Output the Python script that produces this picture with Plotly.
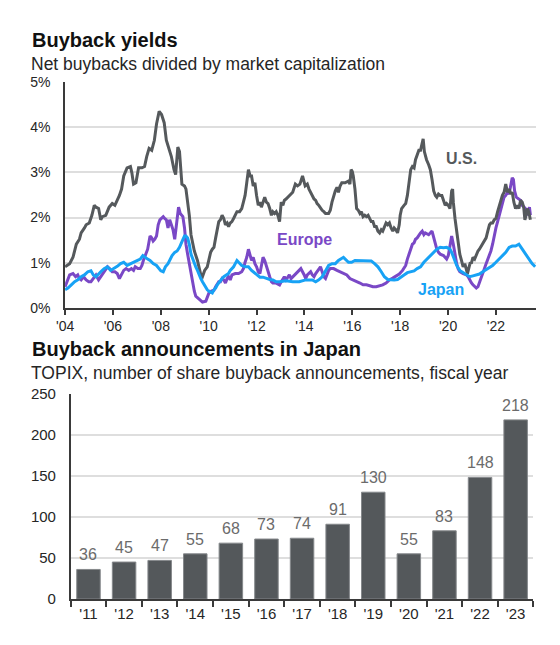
import plotly.graph_objects as go

# ---------------- Data: buyback yields (%), decimal year ----------------
us_t = [2004.00, 2004.19, 2004.33, 2004.47, 2004.60, 2004.67, 2004.81, 2004.88, 2005.01, 2005.12,
        2005.22, 2005.29, 2005.40, 2005.49, 2005.56, 2005.70, 2005.84, 2005.97, 2006.08, 2006.18,
        2006.27, 2006.36, 2006.45, 2006.59, 2006.73, 2006.79, 2006.86, 2006.96, 2007.07, 2007.21,
        2007.32, 2007.41, 2007.51, 2007.62, 2007.73, 2007.82, 2007.93, 2008.03, 2008.14, 2008.23,
        2008.33, 2008.44, 2008.55, 2008.62, 2008.71, 2008.78, 2008.88, 2008.99, 2009.05, 2009.12,
        2009.19, 2009.26, 2009.33, 2009.40, 2009.53, 2009.60, 2009.67, 2009.74, 2009.83, 2009.94,
        2010.01, 2010.08, 2010.15, 2010.22, 2010.29, 2010.36, 2010.42, 2010.49, 2010.56, 2010.63,
        2010.70, 2010.77, 2010.83, 2010.90, 2010.97, 2011.04, 2011.18, 2011.29, 2011.38, 2011.45,
        2011.52, 2011.59, 2011.66, 2011.73, 2011.79, 2011.86, 2011.93, 2012.00, 2012.07, 2012.14,
        2012.20, 2012.27, 2012.34, 2012.41, 2012.48, 2012.55, 2012.62, 2012.68, 2012.75, 2012.82,
        2012.89, 2012.96, 2013.03, 2013.10, 2013.16, 2013.23, 2013.37, 2013.51, 2013.62, 2013.71,
        2013.81, 2013.92, 2014.03, 2014.12, 2014.19, 2014.26, 2014.33, 2014.40, 2014.47, 2014.53,
        2014.60, 2014.67, 2014.74, 2014.81, 2014.88, 2015.01, 2015.08, 2015.15, 2015.22, 2015.29,
        2015.36, 2015.42, 2015.49, 2015.56, 2015.70, 2015.84, 2015.90, 2015.95, 2016.00, 2016.04,
        2016.11, 2016.18, 2016.25, 2016.32, 2016.38, 2016.45, 2016.52, 2016.59, 2016.66, 2016.73,
        2016.79, 2016.86, 2016.93, 2017.00, 2017.07, 2017.14, 2017.21, 2017.27, 2017.34, 2017.41,
        2017.48, 2017.55, 2017.62, 2017.69, 2017.75, 2017.82, 2017.89, 2017.96, 2018.00, 2018.06,
        2018.16, 2018.23, 2018.30, 2018.37, 2018.44, 2018.51, 2018.58, 2018.64, 2018.71, 2018.78,
        2018.85, 2018.92, 2018.96, 2019.01, 2019.10, 2019.19, 2019.26, 2019.33, 2019.40, 2019.47,
        2019.53, 2019.60, 2019.67, 2019.74, 2019.81, 2019.88, 2019.94, 2020.01, 2020.08, 2020.15,
        2020.19, 2020.22, 2020.29, 2020.36, 2020.42, 2020.49, 2020.56, 2020.63, 2020.70, 2020.77,
        2020.81, 2020.88, 2020.93, 2020.97, 2021.04, 2021.11, 2021.18, 2021.25, 2021.31, 2021.38,
        2021.45, 2021.52, 2021.59, 2021.66, 2021.73, 2021.79, 2021.86, 2021.93, 2022.00, 2022.07,
        2022.14, 2022.21, 2022.27, 2022.34, 2022.41, 2022.48, 2022.55, 2022.62, 2022.68, 2022.75,
        2022.82, 2022.89, 2022.96, 2023.03, 2023.10, 2023.16, 2023.21, 2023.26, 2023.31, 2023.37,
        2023.44]
us_v = [0.91, 0.98, 1.12, 1.41, 1.52, 1.66, 1.77, 1.84, 1.88, 2.05,
        2.27, 2.23, 2.20, 1.95, 2.02, 2.05, 2.23, 2.31, 2.27, 2.38,
        2.49, 2.63, 2.92, 3.10, 3.13, 2.99, 2.74, 2.77, 3.10, 3.10,
        3.13, 3.35, 3.53, 3.49, 3.71, 4.07, 4.35, 4.28, 4.10, 3.71,
        3.53, 3.35, 3.06, 2.95, 3.56, 3.46, 2.74, 2.70, 2.63, 2.34,
        2.05, 1.62, 1.41, 1.26, 1.05, 0.91, 0.73, 0.69, 0.83, 0.91,
        1.05, 1.23, 1.30, 1.34, 1.55, 1.77, 1.91, 1.95, 2.05, 1.98,
        1.84, 1.88, 1.80, 1.88, 1.91, 1.98, 2.13, 2.13, 2.20, 2.34,
        2.49, 2.77, 3.06, 2.92, 2.92, 2.70, 2.77, 2.49, 2.27, 2.34,
        2.23, 2.34, 2.45, 2.34, 2.31, 2.20, 2.05, 2.13, 2.09, 2.13,
        2.05, 1.91, 2.34, 2.27, 2.38, 2.41, 2.49, 2.56, 2.74, 2.70,
        2.74, 2.92, 2.70, 2.74, 2.63, 2.56, 2.49, 2.41, 2.38, 2.31,
        2.27, 2.20, 2.16, 2.13, 2.09, 2.09, 2.16, 2.34, 2.49, 2.59,
        2.67, 2.56, 2.70, 2.77, 2.77, 2.81, 2.74, 3.06, 3.02, 2.92,
        2.63, 2.20, 2.16, 2.09, 2.13, 2.02, 2.05, 2.02, 2.05, 1.95,
        1.91, 1.91, 1.80, 1.80, 1.70, 1.66, 1.73, 1.70, 1.80, 1.88,
        1.84, 1.88, 1.77, 1.70, 1.77, 1.73, 1.66, 1.84, 2.05, 2.20,
        2.27, 2.31, 2.49, 2.84, 3.06, 3.13, 3.10, 3.28, 3.38, 3.49,
        3.49, 3.71, 3.74, 3.46, 3.28, 3.17, 3.06, 2.84, 2.59, 2.49,
        2.45, 2.52, 2.49, 2.49, 2.38, 2.27, 2.31, 2.27, 2.20, 2.59,
        2.63, 2.34, 1.98, 1.70, 1.41, 1.19, 1.05, 0.91, 0.98, 0.83,
        0.76, 0.91, 1.01, 0.98, 1.12, 1.08, 1.19, 1.26, 1.30, 1.37,
        1.41, 1.48, 1.55, 1.70, 1.84, 1.88, 1.88, 1.95, 1.98, 2.13,
        2.27, 2.41, 2.49, 2.56, 2.74, 2.56, 2.63, 2.52, 2.56, 2.34,
        2.20, 2.27, 2.20, 2.38, 2.34, 2.23, 1.95, 2.05, 2.20, 2.13,
        1.95]

eu_t = [2004.00, 2004.08, 2004.19, 2004.33, 2004.44, 2004.53, 2004.60, 2004.67, 2004.77, 2004.88,
        2004.99, 2005.08, 2005.18, 2005.29, 2005.40, 2005.49, 2005.56, 2005.67, 2005.77, 2005.86,
        2005.97, 2006.08, 2006.18, 2006.27, 2006.36, 2006.45, 2006.55, 2006.66, 2006.77, 2006.86,
        2006.93, 2007.04, 2007.14, 2007.21, 2007.27, 2007.34, 2007.45, 2007.55, 2007.62, 2007.68,
        2007.75, 2007.82, 2007.89, 2007.96, 2008.03, 2008.10, 2008.16, 2008.23, 2008.30, 2008.37,
        2008.44, 2008.51, 2008.58, 2008.64, 2008.68, 2008.74, 2008.81, 2008.92, 2008.99, 2009.05,
        2009.12, 2009.19, 2009.26, 2009.33, 2009.40, 2009.46, 2009.60, 2009.74, 2009.88, 2009.94,
        2010.01, 2010.11, 2010.22, 2010.29, 2010.36, 2010.42, 2010.49, 2010.56, 2010.63, 2010.70,
        2010.77, 2010.83, 2010.90, 2010.97, 2011.11, 2011.25, 2011.38, 2011.45, 2011.52, 2011.59,
        2011.66, 2011.73, 2011.79, 2011.86, 2011.93, 2012.00, 2012.07, 2012.14, 2012.20, 2012.27,
        2012.34, 2012.41, 2012.48, 2012.55, 2012.62, 2012.68, 2012.82, 2012.96, 2013.03, 2013.16,
        2013.23, 2013.37, 2013.44, 2013.58, 2013.71, 2013.85, 2013.99, 2014.05, 2014.12, 2014.19,
        2014.26, 2014.33, 2014.40, 2014.47, 2014.53, 2014.60, 2014.67, 2014.74, 2014.81, 2014.88,
        2014.95, 2015.01, 2015.08, 2015.22, 2015.36, 2015.49, 2015.63, 2015.77, 2015.90, 2016.04,
        2016.18, 2016.32, 2016.45, 2016.59, 2016.73, 2016.86, 2017.00, 2017.14, 2017.27, 2017.41,
        2017.55, 2017.69, 2017.82, 2017.96, 2018.10, 2018.16, 2018.23, 2018.30, 2018.37, 2018.44,
        2018.51, 2018.58, 2018.64, 2018.71, 2018.78, 2018.85, 2018.92, 2018.99, 2019.05, 2019.19,
        2019.33, 2019.40, 2019.47, 2019.53, 2019.60, 2019.67, 2019.81, 2019.88, 2019.94, 2020.01,
        2020.08, 2020.15, 2020.22, 2020.29, 2020.36, 2020.42, 2020.49, 2020.63, 2020.77, 2020.84,
        2020.90, 2020.97, 2021.04, 2021.11, 2021.18, 2021.25, 2021.31, 2021.38, 2021.45, 2021.52,
        2021.59, 2021.66, 2021.73, 2021.79, 2021.86, 2021.93, 2022.00, 2022.07, 2022.14, 2022.21,
        2022.27, 2022.34, 2022.41, 2022.48, 2022.55, 2022.62, 2022.68, 2022.73, 2022.78, 2022.85,
        2022.93, 2023.03, 2023.10, 2023.16, 2023.23, 2023.30, 2023.37, 2023.40, 2023.44]
eu_v = [0.47, 0.58, 0.73, 0.76, 0.69, 0.73, 0.65, 0.62, 0.69, 0.62,
        0.58, 0.58, 0.65, 0.73, 0.62, 0.69, 0.76, 0.83, 0.91, 0.87,
        0.80, 0.80, 0.76, 0.65, 0.76, 0.83, 0.87, 0.83, 0.87, 0.83,
        0.91, 0.87, 0.87, 0.94, 1.05, 1.16, 1.30, 1.59, 1.55, 1.48,
        1.52, 1.59, 1.84, 1.95, 1.98, 2.02, 1.98, 1.95, 1.77, 1.95,
        1.84, 1.73, 1.52, 1.77, 2.05, 2.23, 2.09, 2.02, 1.77, 1.41,
        1.19, 0.98, 0.76, 0.55, 0.37, 0.26, 0.19, 0.13, 0.15, 0.22,
        0.33, 0.37, 0.39, 0.47, 0.55, 0.58, 0.58, 0.65, 0.62, 0.55,
        0.65, 0.69, 0.62, 0.73, 0.76, 0.76, 0.80, 0.87, 1.01, 1.12,
        1.30, 1.19, 1.05, 1.12, 0.98, 0.91, 0.80, 0.76, 0.94, 1.12,
        1.05, 0.91, 0.80, 0.69, 0.58, 0.55, 0.55, 0.51, 0.58, 0.69,
        0.62, 0.73, 0.65, 0.73, 0.80, 0.87, 0.73, 0.65, 0.73, 0.76,
        0.80, 0.73, 0.69, 0.76, 0.80, 0.87, 0.91, 0.80, 0.69, 0.65,
        0.76, 0.83, 0.87, 0.87, 0.83, 0.80, 0.76, 0.73, 0.65, 0.62,
        0.58, 0.55, 0.51, 0.51, 0.49, 0.47, 0.47, 0.49, 0.51, 0.55,
        0.62, 0.66, 0.71, 0.75, 0.83, 0.87, 0.94, 1.08, 1.19, 1.30,
        1.41, 1.44, 1.52, 1.55, 1.62, 1.66, 1.70, 1.62, 1.66, 1.62,
        1.70, 1.55, 1.41, 1.30, 1.23, 1.19, 1.16, 1.12, 1.08, 1.16,
        1.34, 1.59, 1.41, 1.16, 0.98, 0.87, 0.80, 0.76, 0.73, 0.69,
        0.62, 0.56, 0.51, 0.47, 0.44, 0.47, 0.55, 0.65, 0.76, 0.87,
        0.98, 1.08, 1.16, 1.26, 1.41, 1.62, 1.77, 1.91, 2.05, 2.20,
        2.34, 2.45, 2.49, 2.56, 2.52, 2.74, 2.88, 2.84, 2.59, 2.45,
        2.41, 2.38, 2.27, 2.23, 2.20, 2.05, 2.16, 2.23, 2.05]

jp_t = [2004.00, 2004.12, 2004.26, 2004.40, 2004.53, 2004.67, 2004.81, 2004.95, 2005.08, 2005.18,
        2005.29, 2005.40, 2005.49, 2005.63, 2005.77, 2005.90, 2006.04, 2006.18, 2006.32, 2006.45,
        2006.59, 2006.73, 2006.86, 2007.00, 2007.14, 2007.25, 2007.34, 2007.45, 2007.55, 2007.68,
        2007.82, 2007.92, 2008.00, 2008.10, 2008.19, 2008.30, 2008.37, 2008.47, 2008.58, 2008.68,
        2008.78, 2008.85, 2008.92, 2008.99, 2009.05, 2009.12, 2009.19, 2009.26, 2009.33, 2009.40,
        2009.46, 2009.53, 2009.60, 2009.67, 2009.74, 2009.81, 2009.88, 2009.94, 2010.01, 2010.08,
        2010.15, 2010.22, 2010.29, 2010.36, 2010.42, 2010.49, 2010.56, 2010.63, 2010.77, 2010.83,
        2010.90, 2010.97, 2011.04, 2011.11, 2011.18, 2011.25, 2011.32, 2011.38, 2011.52, 2011.66,
        2011.79, 2011.86, 2012.00, 2012.14, 2012.27, 2012.41, 2012.55, 2012.68, 2012.82, 2012.96,
        2013.23, 2013.51, 2013.78, 2014.05, 2014.33, 2014.47, 2014.60, 2014.74, 2014.88, 2015.01,
        2015.15, 2015.29, 2015.42, 2015.63, 2015.84, 2015.97, 2016.11, 2016.38, 2016.66, 2016.79,
        2016.93, 2017.07, 2017.21, 2017.34, 2017.48, 2017.62, 2017.75, 2017.89, 2018.03, 2018.16,
        2018.30, 2018.44, 2018.58, 2018.71, 2018.85, 2018.99, 2019.12, 2019.26, 2019.40, 2019.53,
        2019.67, 2019.81, 2019.94, 2020.08, 2020.15, 2020.22, 2020.29, 2020.36, 2020.49, 2020.63,
        2020.77, 2020.90, 2021.04, 2021.18, 2021.31, 2021.45, 2021.59, 2021.73, 2021.86, 2022.00,
        2022.14, 2022.27, 2022.41, 2022.55, 2022.68, 2022.82, 2022.96, 2023.10, 2023.23, 2023.37,
        2023.51, 2023.64]
jp_v = [0.40, 0.44, 0.51, 0.58, 0.62, 0.69, 0.73, 0.80, 0.82, 0.73,
        0.69, 0.76, 0.80, 0.87, 0.91, 0.83, 0.87, 0.92, 0.98, 1.01,
        0.94, 0.98, 1.01, 1.05, 1.08, 1.16, 1.12, 1.08, 1.05, 0.98,
        0.94, 0.87, 0.82, 0.80, 0.91, 0.98, 1.05, 1.16, 1.23, 1.26,
        1.34, 1.44, 1.51, 1.59, 1.59, 1.55, 1.41, 1.19, 1.08, 0.98,
        0.91, 0.83, 0.73, 0.65, 0.58, 0.51, 0.44, 0.40, 0.37, 0.34,
        0.33, 0.40, 0.44, 0.51, 0.56, 0.62, 0.65, 0.69, 0.73, 0.76,
        0.83, 0.87, 0.91, 0.98, 1.05, 1.01, 0.98, 0.94, 0.91, 0.91,
        0.83, 0.80, 0.73, 0.68, 0.68, 0.65, 0.63, 0.62, 0.58, 0.58,
        0.60, 0.58, 0.58, 0.62, 0.62, 0.58, 0.62, 0.69, 0.83, 0.94,
        0.98, 0.98, 1.05, 1.12, 1.01, 1.01, 1.05, 1.05, 1.05, 1.04,
        0.98, 0.91, 0.80, 0.69, 0.63, 0.62, 0.62, 0.63, 0.69, 0.73,
        0.78, 0.80, 0.82, 0.87, 0.91, 1.01, 1.08, 1.16, 1.23, 1.30,
        1.34, 1.33, 1.34, 1.30, 1.23, 1.12, 1.01, 0.94, 0.83, 0.78,
        0.73, 0.69, 0.71, 0.73, 0.75, 0.80, 0.85, 0.89, 0.94, 1.01,
        1.08, 1.16, 1.23, 1.34, 1.37, 1.37, 1.41, 1.30, 1.19, 1.08,
        0.98, 0.91]

year_ticks = [2004, 2006, 2008, 2010, 2012, 2014, 2016, 2018, 2020, 2022]
year_labels = ["'04", "'06", "'08", "'10", "'12", "'14", "'16", "'18", "'20", "'22"]
pct_ticks = [0, 1, 2, 3, 4, 5]
pct_labels = ["0%", "1%", "2%", "3%", "4%", "5%"]

# ---------------- Data: buyback announcements in Japan ----------------
fiscal_years = ["'11", "'12", "'13", "'14", "'15", "'16", "'17", "'18", "'19", "'20", "'21", "'22", "'23"]
announcements = [36, 45, 47, 55, 68, 73, 74, 91, 130, 55, 83, 148, 218]

# ---------------- Styling ----------------
FONT = "Liberation Sans, Arial, sans-serif"
US_C = "#55595c"
EU_C = "#7a48c6"
JP_C = "#17a2f5"
BAR_C = "#54585b"
GRID = "#dedede"
AXIS = "#3a3a3a"
W, H = 560, 645

def px_x(p):
    return p / W

def px_y(p):
    return 1 - p / H

fig = go.Figure()
fig.add_trace(go.Scatter(x=eu_t, y=eu_v, mode="lines", line=dict(color=EU_C, width=3),
                         xaxis="x", yaxis="y", showlegend=False, hoverinfo="skip"))
fig.add_trace(go.Scatter(x=us_t, y=us_v, mode="lines", line=dict(color=US_C, width=3),
                         xaxis="x", yaxis="y", showlegend=False, hoverinfo="skip"))
fig.add_trace(go.Scatter(x=jp_t, y=jp_v, mode="lines", line=dict(color=JP_C, width=3),
                         xaxis="x", yaxis="y", showlegend=False, hoverinfo="skip"))

fig.add_trace(go.Bar(x=fiscal_years, y=announcements, xaxis="x2", yaxis="y2",
                     marker=dict(color=BAR_C, line=dict(color="#85888b", width=1)),
                     width=0.66, showlegend=False, hoverinfo="skip"))

fig.update_layout(
    width=W, height=H,
    margin=dict(l=0, r=0, t=0, b=0),
    paper_bgcolor="white", plot_bgcolor="white",
    font=dict(family=FONT, color="#262626"),
    xaxis=dict(domain=[px_x(57), px_x(536)], anchor="y", range=[2004, 2023.69],
               tickvals=year_ticks, ticktext=year_labels, tickfont=dict(size=14),
               showline=True, linecolor=AXIS, linewidth=1.5, ticks="outside", ticklen=5,
               tickcolor=AXIS, tickwidth=1.5, showgrid=False, zeroline=False),
    yaxis=dict(domain=[px_y(307), px_y(75)], anchor="x", range=[0, 5],
               tickvals=pct_ticks, ticktext=pct_labels, tickfont=dict(size=14),
               showgrid=True, gridcolor=GRID, gridwidth=1.5, zeroline=False,
               showline=True, linecolor=AXIS, linewidth=1.5, ticks="", ticklabelstandoff=10),
    xaxis2=dict(domain=[px_x(62.7), px_x(533)], anchor="y2", type="category",
                tickfont=dict(size=15), showline=True, linecolor=AXIS, linewidth=1.5,
                ticks="outside", tickson="boundaries", ticklen=6, tickcolor=AXIS, tickwidth=1.5,
                showgrid=False, zeroline=False),
    yaxis2=dict(domain=[px_y(606), px_y(395)], anchor="x2", range=[0, 250], dtick=50,
                tickfont=dict(size=15), showgrid=True, gridcolor=GRID, gridwidth=1.5,
                zeroline=False, showline=True, linecolor=AXIS, linewidth=1.5, ticks="",
                ticklabelstandoff=10),
    bargap=0.34,
)

annotations = [
    dict(text="<b>Buyback yields</b>", x=px_x(21), y=px_y(32), xref="paper", yref="paper",
         xanchor="left", yanchor="middle", showarrow=False, font=dict(size=20, color="#111111")),
    dict(text="Net buybacks divided by market capitalization", x=px_x(20), y=px_y(56.5),
         xref="paper", yref="paper", xanchor="left", yanchor="middle", showarrow=False,
         font=dict(size=17.5, color="#262626")),
    dict(text="<b>Buyback announcements in Japan</b>", x=px_x(21), y=px_y(349), xref="paper",
         yref="paper", xanchor="left", yanchor="middle", showarrow=False,
         font=dict(size=20, color="#111111")),
    dict(text="TOPIX, number of share buyback announcements, fiscal year", x=px_x(20),
         y=px_y(374), xref="paper", yref="paper", xanchor="left", yanchor="middle",
         showarrow=False, font=dict(size=17.5, color="#262626")),
    dict(text="<b>U.S.</b>", x=2020.56, y=3.31, xref="x", yref="y", showarrow=False,
         font=dict(size=16, color=US_C)),
    dict(text="<b>Europe</b>", x=2014.02, y=1.52, xref="x", yref="y", showarrow=False,
         font=dict(size=16, color=EU_C)),
    dict(text="<b>Japan</b>", x=2019.70, y=0.40, xref="x", yref="y", showarrow=False,
         font=dict(size=16, color=JP_C)),
]
# value labels above each bar
for cat, val in zip(fiscal_years, announcements):
    annotations.append(dict(text=str(val), x=cat, y=val, xref="x2", yref="y2",
                            xanchor="center", yanchor="bottom", yshift=4, showarrow=False,
                            font=dict(size=16, color="#6b6b6b")))
fig.update_layout(annotations=annotations)

fig.write_html("out.html", config={"displayModeBar": False},
               post_script="document.body.style.margin='0';document.body.style.overflow='hidden';")
